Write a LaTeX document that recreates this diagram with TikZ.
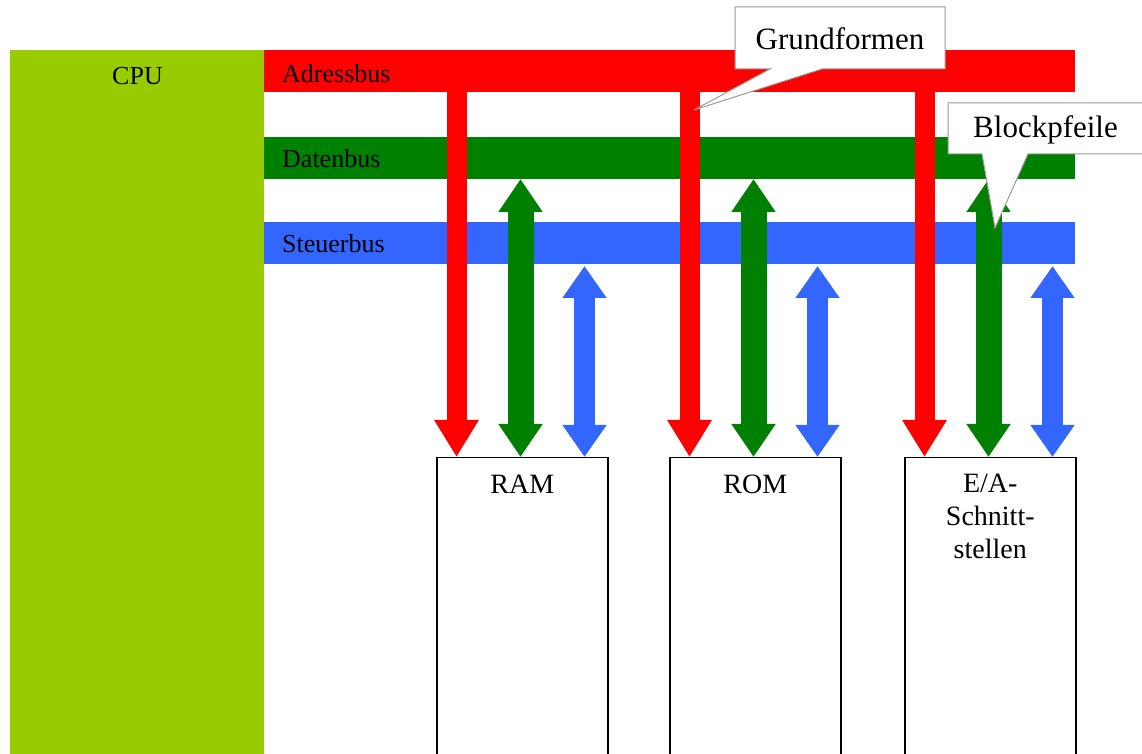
\documentclass[tikz,border=0pt]{standalone}
\usepackage{fontspec}
\setmainfont{Liberation Serif}
\usetikzlibrary{arrows.meta,positioning,calc}
\definecolor{cpugreen}{HTML}{99CC00}
\definecolor{adrred}{HTML}{FF0000}
\definecolor{datgreen}{HTML}{008000}
\definecolor{stblue}{HTML}{3366FF}

\begin{document}
\begin{tikzpicture}[x=1pt,y=1pt,
  bus/.style={minimum width=811pt,minimum height=42pt,inner sep=0pt,anchor=south west},
  unit/.style={draw=black,line width=1.5pt,fill=white,minimum width=171pt,minimum height=340pt,inner sep=0pt,anchor=north west},
  buslabel/.style={font=\fontsize{26}{30}\selectfont,anchor=base west,inner sep=0pt},
  unitlabel/.style={font=\fontsize{28}{33}\selectfont,align=center,anchor=base,inner sep=0pt},
  adrarrow/.style={adrred,line width=20pt,-{Triangle[width=42pt,length=37pt]}},
  datarrow/.style={datgreen,line width=26pt,{Triangle[width=42pt,length=33pt]}-{Triangle[width=42pt,length=33pt]}},
  starrow/.style={stblue,line width=21pt,{Triangle[width=42pt,length=32pt]}-{Triangle[width=42pt,length=32pt]}},
  callout/.style={draw=gray!80,fill=white,line width=1pt},
  calltext/.style={font=\fontsize{31}{36}\selectfont,anchor=base,inner sep=0pt}]

\useasboundingbox (0,0) rectangle (1142,754);
\clip (0,0) rectangle (1142,754);

% CPU
\node[fill=cpugreen,minimum width=254pt,minimum height=740pt,inner sep=0pt,anchor=north west] (cpu) at (10,704) {};
\node[buslabel,anchor=base] (cpulabel) at (137.5,669) {CPU};

% buses
\node[bus,fill=adrred] (adr) at (264,662) {};
\node[bus,fill=datgreen] (dat) at (264,575) {};
\node[bus,fill=stblue] (st) at (264,490) {};
\node[buslabel] (adrlabel) at (282,671) {Adressbus};
\node[buslabel] (datlabel) at (282,586) {Datenbus};
\node[buslabel] (stlabel) at (282,501) {Steuerbus};

% units
\node[unit] (ram) at (436,297) {};
\node[unit] (rom) at (669,297) {};
\node[unit] (ea) at (904,297) {};
\node[unitlabel] (ramlabel) at ($(ram.north)+(0,-37)$) {RAM};
\node[unitlabel] (romlabel) at ($(rom.north)+(0,-37)$) {ROM};
\node[unitlabel] (ealabel) at ($(ea.north)+(0,-102)$) {E/A-\\Schnitt-\\stellen};

% arrow positions
\coordinate (ramA) at ([xshift=20.5pt]ram.north west);
\coordinate (ramD) at ([xshift=84.5pt]ram.north west);
\coordinate (ramS) at ([xshift=148.5pt]ram.north west);
\coordinate (romA) at ([xshift=20.5pt]rom.north west);
\coordinate (romD) at ([xshift=84.5pt]rom.north west);
\coordinate (romS) at ([xshift=148.5pt]rom.north west);
\coordinate (eaA) at ([xshift=20.5pt]ea.north west);
\coordinate (eaD) at ([xshift=84.5pt]ea.north west);
\coordinate (eaS) at ([xshift=148.5pt]ea.north west);

% arrows
\draw[adrarrow] (ramA |- adr.center) -- (ramA);
\draw[adrarrow] (romA |- adr.center) -- (romA);
\draw[adrarrow] (eaA |- adr.center) -- (eaA);
\draw[datarrow] (ramD |- dat.south) -- (ramD);
\draw[datarrow] (romD |- dat.south) -- (romD);
\draw[datarrow] (eaD |- dat.south) -- (eaD);
\draw[starrow] ([yshift=-2pt]ramS |- st.south) -- (ramS);
\draw[starrow] ([yshift=-2pt]romS |- st.south) -- (romS);
\draw[starrow] ([yshift=-2pt]eaS |- st.south) -- (eaS);

% callouts
\coordinate (grundtip) at (694,644);
\draw[callout] (735,747) -- (945,747) -- (945,685) -- (822,685) -- (grundtip) -- (770,685) -- (735,685) -- cycle;
\node[calltext] (grund) at (840,704) {Grundformen};
\coordinate (blocktip) at (995,526);
\draw[callout] (948,651) -- (1160,651) -- (1160,600) -- (1028,600) -- (blocktip) -- (982,600) -- (948,600) -- cycle;
\node[calltext] (block) at (1045.5,616) {Blockpfeile};
\end{tikzpicture}
\end{document}
